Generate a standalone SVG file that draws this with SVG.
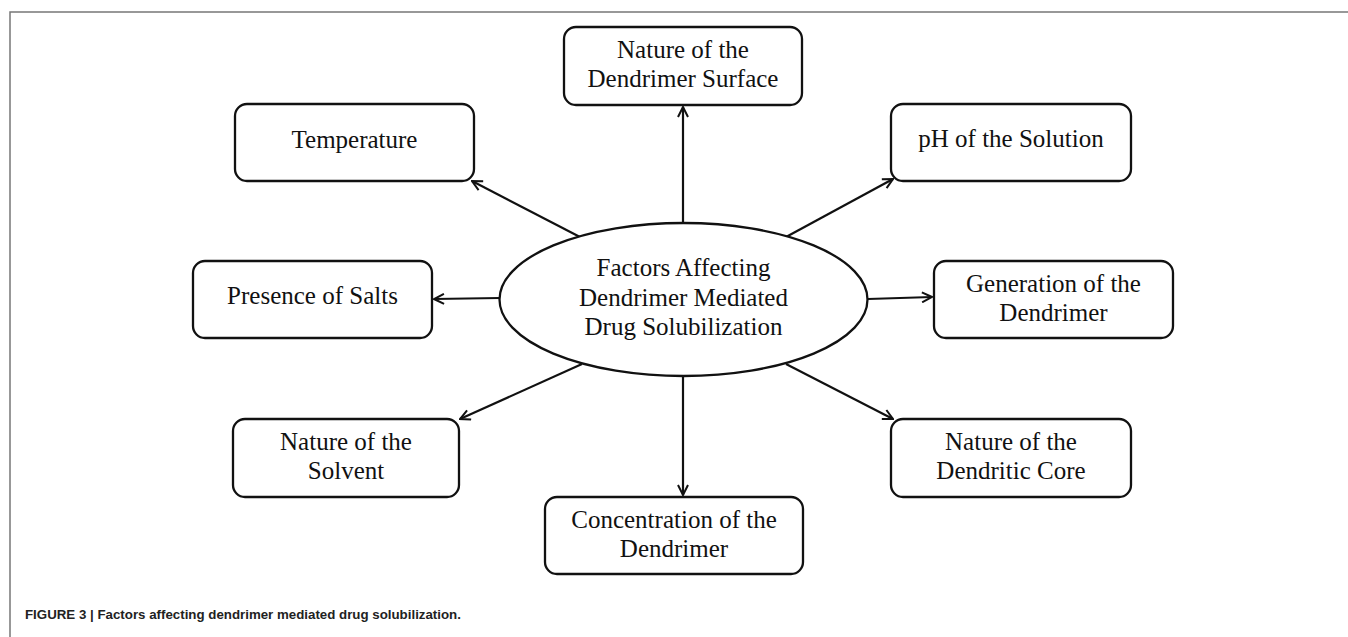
<svg xmlns="http://www.w3.org/2000/svg" width="1348" height="637" viewBox="0 0 1348 637">
<style>
.box{fill:#fff;stroke:#111;stroke-width:2.3}
.t{font-family:"Liberation Serif","Times New Roman",serif;font-size:25px;fill:#111;text-anchor:middle}
.c{stroke:#111;stroke-width:2.2;fill:none;marker-end:url(#ah)}
.frame{stroke:#777;stroke-width:1.5;fill:none}
.cap{font-family:"Liberation Sans",Arial,sans-serif;font-weight:bold;font-size:13.3px;fill:#222}
</style>
<defs>
<marker id="ah" viewBox="0 0 12 12" refX="11" refY="6" markerWidth="12" markerHeight="12" markerUnits="userSpaceOnUse" orient="auto">
<path d="M1,1 L11,6 L1,11" fill="none" stroke="#111" stroke-width="2"/>
</marker>
</defs>
<rect width="1348" height="637" fill="#fff"/>
<path class="frame" d="M10,637 V12 H1348"/>
<g id="connectors">
<line class="c" x1="683" y1="223" x2="683" y2="107"/>
<line class="c" x1="580" y1="237" x2="472" y2="181"/>
<line class="c" x1="786" y1="237" x2="893" y2="179"/>
<line class="c" x1="500" y1="298" x2="434" y2="299"/>
<line class="c" x1="868" y1="299" x2="932" y2="297"/>
<line class="c" x1="582" y1="364" x2="460" y2="419"/>
<line class="c" x1="683" y1="376" x2="683" y2="495"/>
<line class="c" x1="786" y1="364" x2="893" y2="419"/>
</g>
<g id="center">
<ellipse class="box" cx="683.5" cy="299.5" rx="184" ry="76.5"/>
<text class="t" x="683.5" y="276">Factors Affecting</text>
<text class="t" x="683.5" y="306">Dendrimer Mediated</text>
<text class="t" x="683.5" y="335">Drug Solubilization</text>
</g>
<g id="surface">
<rect class="box" x="564" y="27" width="238" height="78" rx="12"/>
<text class="t" x="683" y="58">Nature of the</text>
<text class="t" x="683" y="87">Dendrimer Surface</text>
</g>
<g id="temperature">
<rect class="box" x="235" y="104" width="239" height="77" rx="12"/>
<text class="t" x="354.5" y="147.5">Temperature</text>
</g>
<g id="ph">
<rect class="box" x="891" y="104" width="240" height="77" rx="12"/>
<text class="t" x="1011" y="147">pH of the Solution</text>
</g>
<g id="salts">
<rect class="box" x="193" y="261" width="239" height="77" rx="12"/>
<text class="t" x="312.5" y="304">Presence of Salts</text>
</g>
<g id="generation">
<rect class="box" x="934" y="261" width="239" height="77" rx="12"/>
<text class="t" x="1053.5" y="291.5">Generation of the</text>
<text class="t" x="1053.5" y="320.5">Dendrimer</text>
</g>
<g id="solvent">
<rect class="box" x="233" y="419" width="226" height="78" rx="12"/>
<text class="t" x="346" y="449.5">Nature of the</text>
<text class="t" x="346" y="478.5">Solvent</text>
</g>
<g id="concentration">
<rect class="box" x="545" y="497" width="258" height="77" rx="12"/>
<text class="t" x="674" y="527.5">Concentration of the</text>
<text class="t" x="674" y="556.5">Dendrimer</text>
</g>
<g id="core">
<rect class="box" x="891" y="419" width="240" height="78" rx="12"/>
<text class="t" x="1011" y="449.5">Nature of the</text>
<text class="t" x="1011" y="478.5">Dendritic Core</text>
</g>
<text class="cap" x="25" y="619">FIGURE 3 | Factors affecting dendrimer mediated drug solubilization.</text>
</svg>
